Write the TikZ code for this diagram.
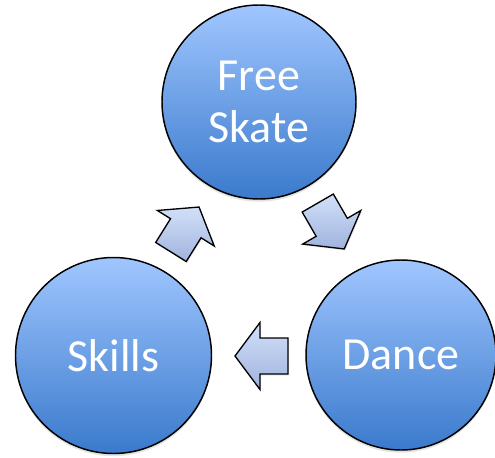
\documentclass[tikz,border=0pt]{standalone}
\usepackage{fontspec}
\setmainfont{Carlito}
\usetikzlibrary{shadows}
\definecolor{circtop}{RGB}{160,198,255}
\definecolor{circbot}{RGB}{58,122,204}
\definecolor{arrtop}{RGB}{210,224,249}
\definecolor{arrbot}{RGB}{160,179,221}
\tikzset{
  circ/.style={circle, draw=black, line width=1.1pt, minimum size=#1*0.75pt, inner sep=0pt,
    top color=circtop, bottom color=circbot, text=white, align=center,
    font=\fontsize{34.5}{39}\selectfont,
    drop shadow={opacity=0.22, shadow xshift=0pt, shadow yshift=-2pt}},
  arrstyle/.style={draw=black, line width=1.0pt, line join=miter, top color=arrtop, bottom color=arrbot,
    drop shadow={opacity=0.18, shadow xshift=0.8pt, shadow yshift=-1.2pt}},
  blockarr/.pic={
    \path[arrstyle] (26.5,0) -- (1.5,33.5) -- (1.5,18) -- (-26.5,18) -- (-26.5,-18) -- (1.5,-18) -- (1.5,-33.5) -- cycle;
  }
}
\begin{document}
\begin{tikzpicture}[x=0.75pt, y=-0.75pt]
\useasboundingbox (0,0) rectangle (495,457);
\node[circ=194] (fs) at (259,102) {Free\\Skate};
\node[circ=196] (sk) at (113.5,355.5) {Skills};
\node[circ=190] (da) at (401,355) {Dance};
\pic[rotate=58] (a1) at (185,229.5) {blockarr};
\pic[rotate=-60] (a2) at (331,226) {blockarr};
\pic[rotate=180] (a3) at (261.5,356) {blockarr};
\end{tikzpicture}
\end{document}
